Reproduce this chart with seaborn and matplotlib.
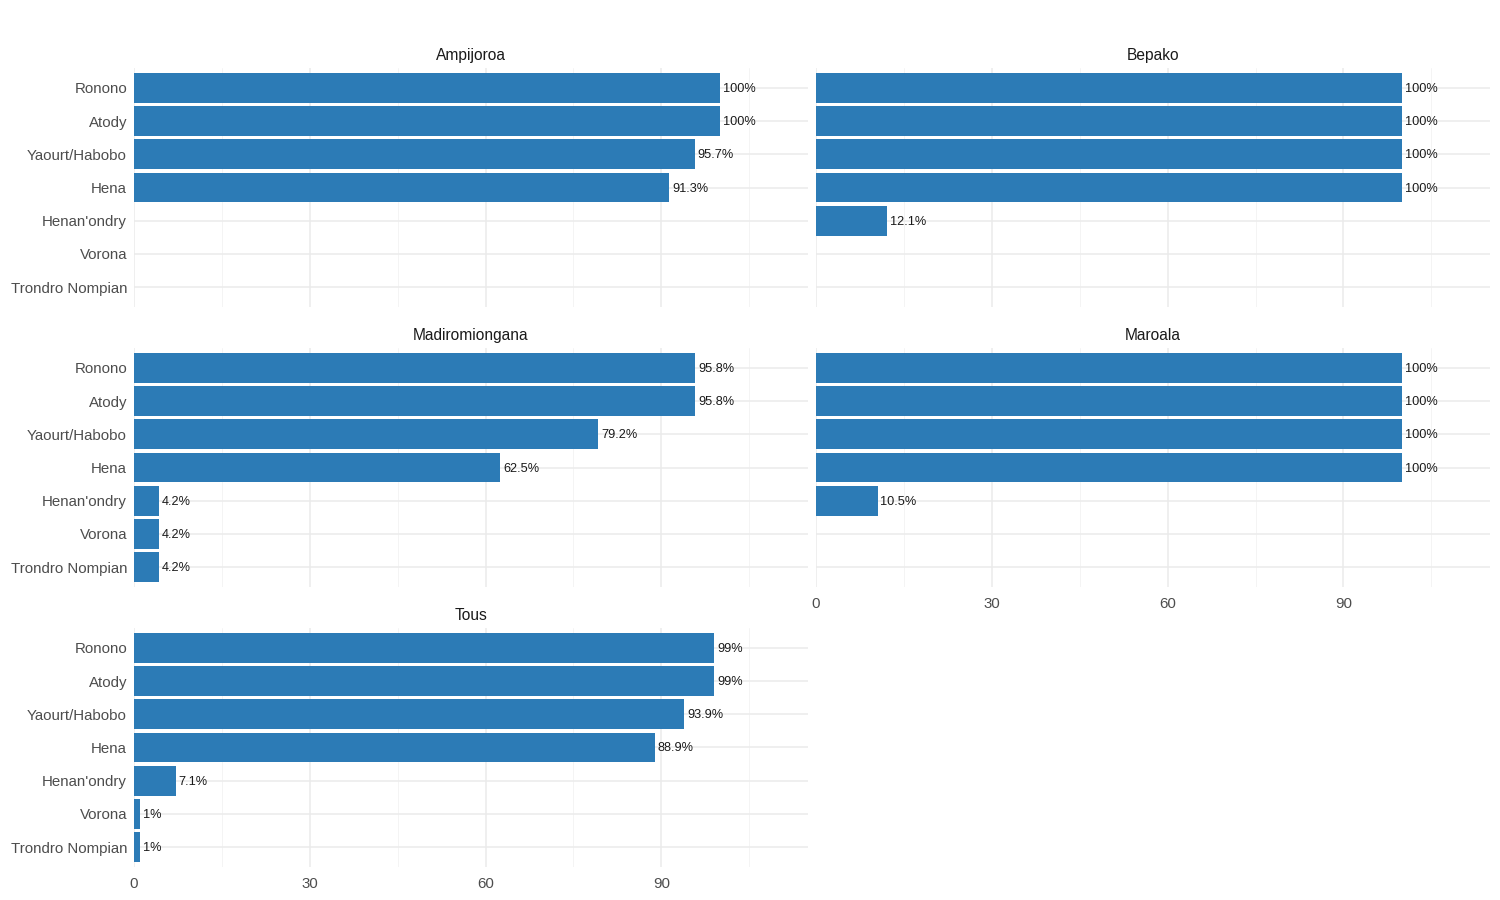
import numpy as np
import pandas as pd
import matplotlib
matplotlib.use("Agg")
import matplotlib.pyplot as plt
from matplotlib.ticker import MultipleLocator
import seaborn as sns

# Données (% des ménages par produit et par site)
produits = ["Ronono", "Atody", "Yaourt/Habobo", "Hena",
            "Henan'ondry", "Vorona", "Trondro Nompian"]
sites = ["Ampijoroa", "Bepako", "Madiromiongana", "Maroala", "Tous"]

ampijoroa = [100, 100, 95.7, 91.3, np.nan, np.nan, np.nan]
bepako = [100, 100, 100, 100, 12.1, np.nan, np.nan]
madiromiongana = [95.8, 95.8, 79.2, 62.5, 4.2, 4.2, 4.2]
maroala = [100, 100, 100, 100, 10.5, np.nan, np.nan]
tous = [99, 99, 93.9, 88.9, 7.1, 1, 1]

valeurs = {
    "Ampijoroa": ampijoroa,
    "Bepako": bepako,
    "Madiromiongana": madiromiongana,
    "Maroala": maroala,
    "Tous": tous,
}

rows = []
for s in sites:
    for p, v in zip(produits, valeurs[s]):
        rows.append({"site": s, "produit": p, "pct": v})
df = pd.DataFrame(rows)

sns.set_theme(style="whitegrid")
plt.rcParams["font.family"] = ["Liberation Sans", "DejaVu Sans"]

couleur = "#2C7BB6"

fig, axes = plt.subplots(3, 2, figsize=(15, 9), dpi=100, sharex=True)
fig.subplots_adjust(left=0.0893, right=0.9933, top=0.9244, bottom=0.0367,
                    wspace=0.012, hspace=0.1715)

positions = [(0, 0), (0, 1), (1, 0), (1, 1), (2, 0)]
for s, (r, c) in zip(sites, positions):
    ax = axes[r, c]
    d = df[(df["site"] == s) & df["pct"].notna()]
    sns.barplot(data=d, x="pct", y="produit", order=produits, orient="h",
                color=couleur, saturation=1, width=0.9, linewidth=0, ax=ax)
    for _, row in d.iterrows():
        i = produits.index(row["produit"])
        ax.text(row["pct"] + 0.5, i + 0.03, f"{row['pct']:g}%", va="center",
                ha="left", fontsize=9.2, color="#1A1A1A")
    ax.set_xlim(0, 115)
    ax.set_ylim(6.6, -0.6)
    ax.xaxis.set_major_locator(MultipleLocator(30))
    ax.xaxis.set_minor_locator(MultipleLocator(15))
    ax.grid(which="major", color="#EBEBEB", linewidth=1.1)
    ax.grid(which="minor", axis="x", color="#F2F2F2", linewidth=0.6)
    ax.set_axisbelow(True)
    for sp in ax.spines.values():
        sp.set_visible(False)
    ax.set_facecolor("white")
    ax.set_xlabel("")
    ax.set_ylabel("")
    ax.set_title(s, fontsize=11.2, color="#1A1A1A", pad=6)
    ax.tick_params(axis="both", length=0, labelsize=10.8, labelcolor="#4D4D4D")
    ax.tick_params(axis="y", pad=5)
    ax.tick_params(axis="x", pad=7)
    if c == 1:
        ax.tick_params(axis="y", labelleft=False)
    show_x = (r, c) in [(2, 0), (1, 1)]
    ax.tick_params(axis="x", labelbottom=show_x)

axes[2, 1].set_visible(False)

fig.savefig("out.png", dpi=100, facecolor="white")
